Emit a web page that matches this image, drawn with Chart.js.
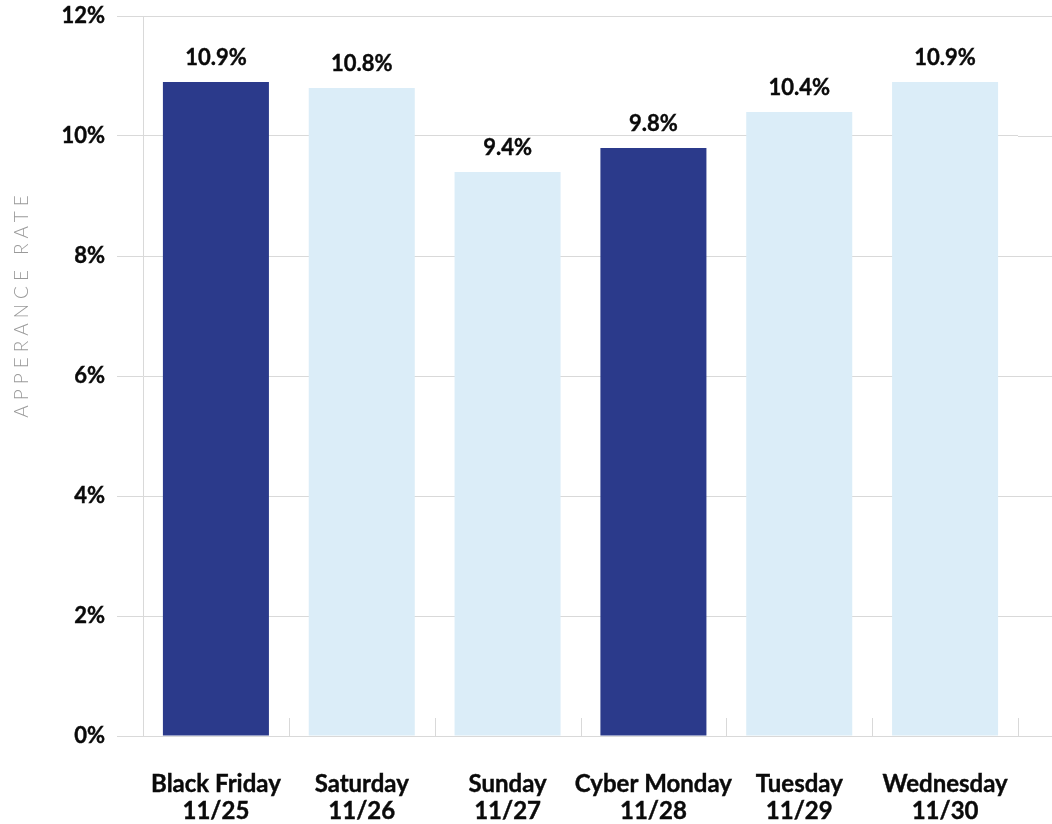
<!DOCTYPE html>
<html>
<head>
<meta charset="utf-8">
<script src="https://cdn.jsdelivr.net/npm/chart.js@4/dist/chart.umd.min.js"></script>
<style>
  html, body { margin: 0; padding: 0; background: #fff; }
  #wrap { width: 1052px; height: 824px; position: relative; }
</style>
</head>
<body>
<div id="wrap"><canvas id="grafico"></canvas></div>
<script>
// dias e taxa de aparição (%)
const dias = [
  ['Black Friday', '11/25'],
  ['Saturday', '11/26'],
  ['Sunday', '11/27'],
  ['Cyber Monday', '11/28'],
  ['Tuesday', '11/29'],
  ['Wednesday', '11/30']
];
const taxas = [10.9, 10.8, 9.4, 9.8, 10.4, 10.9];
const destaque = [true, false, false, true, false, false];
const ticksY = [0, 2, 4, 6, 8, 10, 12];
const tituloY = 'APPERANCE RATE';

const AZUL = '#2b3a8b';
const CLARO = '#dbedf8';
const GRADE = '#d9d9d9';
const TEXTO = '#0a0a0a';
const FONTE = 'Lato, "Open Sans", sans-serif';

// linhas extras: grade estendida à direita, marcas curtas entre categorias, rótulos e título
const extras = {
  id: 'extras',
  beforeDatasetsDraw(chart) {
    const { ctx, chartArea, scales } = chart;
    const x = scales.x, y = scales.y;
    ctx.save();
    ctx.strokeStyle = GRADE;
    ctx.lineWidth = 1;
    ctx.beginPath();
    ticksY.forEach(v => {
      const py = Math.round(y.getPixelForValue(v)) + 0.5;
      ctx.moveTo(chartArea.right, py);
      ctx.lineTo(chart.width, py);
    });
    const meia = (x.getPixelForValue(1) - x.getPixelForValue(0)) / 2;
    for (let i = 0; i < dias.length; i++) {
      const px = Math.round(x.getPixelForValue(i) + meia) + 0.5;
      ctx.moveTo(px, chartArea.bottom - 18);
      ctx.lineTo(px, chartArea.bottom);
    }
    ctx.stroke();
    ctx.restore();
  },
  afterDatasetsDraw(chart) {
    const { ctx } = chart;
    const meta = chart.getDatasetMeta(0);
    ctx.save();
    ctx.fillStyle = TEXTO;
    ctx.strokeStyle = TEXTO;
    ctx.lineWidth = 0.4;
    ctx.font = 'bold 22px ' + FONTE;
    ctx.textAlign = 'center';
    ctx.textBaseline = 'middle';
    meta.data.forEach((barra, i) => {
      const txt = taxas[i].toFixed(1) + '%';
      ctx.fillText(txt, barra.x, barra.y - 24);
      ctx.strokeText(txt, barra.x, barra.y - 24);
    });
    ctx.restore();

    ctx.save();
    ctx.translate(22, 304);
    ctx.rotate(-Math.PI / 2);
    ctx.fillStyle = '#9a9a9a';
    ctx.font = '300 19px ' + FONTE;
    ctx.letterSpacing = '5px';
    ctx.textAlign = 'center';
    ctx.textBaseline = 'middle';
    ctx.fillText(tituloY, 0, 0);
    ctx.restore();
  }
};

const ctx = document.getElementById('grafico').getContext('2d');
new Chart(ctx, {
  type: 'bar',
  data: {
    labels: dias,
    datasets: [{
      data: taxas,
      backgroundColor: destaque.map(d => d ? AZUL : CLARO),
      borderWidth: 0,
      categoryPercentage: 1,
      barPercentage: 0.727
    }]
  },
  options: {
    responsive: true,
    maintainAspectRatio: false,
    animation: false,
    layout: { padding: { top: 16, right: 34, left: 0, bottom: 0 } },
    plugins: { legend: { display: false }, tooltip: { enabled: false } },
    scales: {
      x: {
        offset: true,
        grid: { display: false, drawTicks: false },
        border: { display: true, color: GRADE, width: 1 },
        ticks: {
          color: TEXTO,
          textStrokeColor: TEXTO,
          textStrokeWidth: 0.4,
          font: { family: FONTE, size: 24, weight: 'bold', lineHeight: 1.15 },
          padding: 34,
          maxRotation: 0,
          autoSkip: false
        },
        afterFit(scale) { scale.height = 88; scale.paddingLeft = 0; scale.paddingRight = 0; }
      },
      y: {
        min: 0,
        max: 12,
        grid: { color: GRADE, lineWidth: 1, tickLength: 26 },
        border: { display: true, color: GRADE, width: 1 },
        ticks: {
          stepSize: 2,
          padding: 12,
          color: TEXTO,
          textStrokeColor: TEXTO,
          textStrokeWidth: 0.4,
          font: { family: FONTE, size: 22, weight: 'bold' },
          callback: v => v + '%'
        },
        afterFit(scale) { scale.width = 143; scale.paddingTop = 0; scale.paddingBottom = 0; }
      }
    }
  },
  plugins: [extras]
});
</script>
</body>
</html>
